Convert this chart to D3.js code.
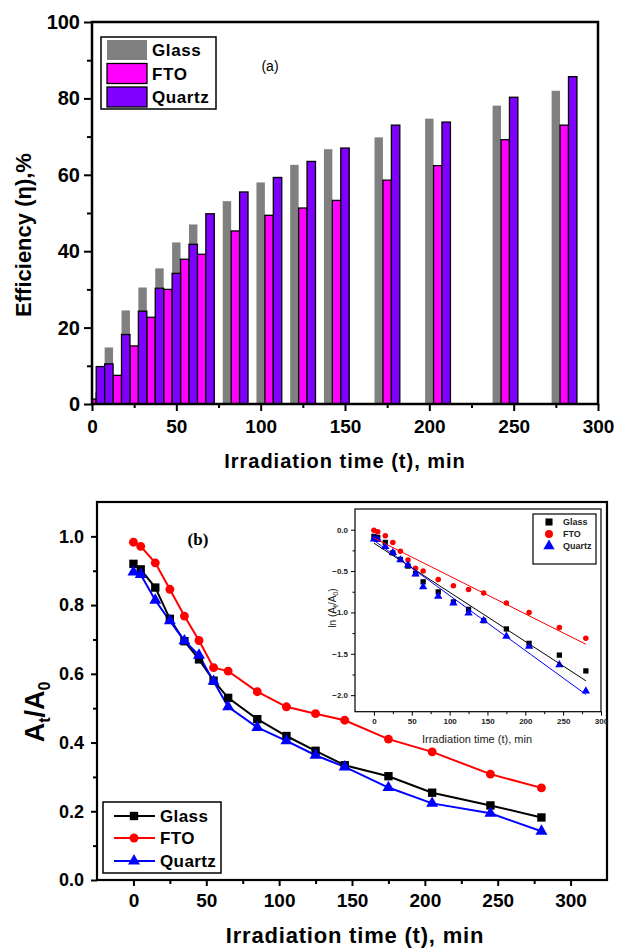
<!DOCTYPE html>
<html><head><meta charset="utf-8">
<script src="https://cdn.jsdelivr.net/npm/d3@7"></script>
<style>body{margin:0;background:#fff}text{font-family:"Liberation Sans",Arial,sans-serif}</style>
</head><body><svg id="c" width="617" height="950"></svg>
<script>
// ---------- DATA ----------
const times = [0, 5, 15, 25, 35, 45, 55, 65, 85, 105, 125, 145, 175, 205, 245, 280];
const seriesNames = ["Glass", "FTO", "Quartz"];

// panel (a): efficiency %
const effGlass  = [null, null, 14.8, 24.5, 30.5, 35.5, 42.3, 47.0, 53.1, 58.0, 62.6, 66.7, 69.8, 74.7, 78.1, 82.0];
const effFTO    = [1.3, 2.9, 7.5, 15.2, 22.7, 30.0, 37.9, 39.2, 45.3, 49.4, 51.3, 53.3, 58.6, 62.4, 69.2, 73.0];
const effQuartz = [9.8, 10.5, 18.2, 24.3, 30.3, 34.2, 41.8, 49.8, 55.5, 59.3, 63.5, 67.0, 73.0, 73.8, 80.3, 85.7];

// panel (b): At/A0
const ratioGlass  = [0.920, 0.904, 0.851, 0.760, 0.695, 0.642, 0.580, 0.530, 0.468, 0.419, 0.376, 0.334, 0.302, 0.254, 0.217, 0.182];
const ratioFTO    = [0.983, 0.971, 0.923, 0.846, 0.768, 0.697, 0.618, 0.608, 0.548, 0.504, 0.484, 0.465, 0.410, 0.373, 0.308, 0.268];
const ratioQuartz = [0.896, 0.889, 0.814, 0.754, 0.696, 0.654, 0.578, 0.504, 0.444, 0.405, 0.363, 0.329, 0.269, 0.223, 0.194, 0.142];

// inset: ln(At/A0)
const lnGlass  = [-0.081, -0.093, -0.154, -0.28, -0.36, -0.44, -0.53, -0.63, -0.752, -0.874, -0.963, -1.10, -1.20, -1.374, -1.516, -1.707];
const lnFTO    = [-0.008, -0.024, -0.073, -0.154, -0.26, -0.366, -0.467, -0.50, -0.602, -0.679, -0.724, -0.765, -0.886, -1.00, -1.183, -1.313];
const lnQuartz = [-0.114, -0.12, -0.203, -0.276, -0.366, -0.427, -0.537, -0.691, -0.805, -0.886, -1.008, -1.098, -1.289, -1.411, -1.634, -1.951];
// linear fits: intercept, slope
const fitIntercept = [-0.163, -0.102, -0.130];
const fitSlope     = [-0.00594, -0.00458, -0.00665];

// tick values
const ticksA_x = [0, 50, 100, 150, 200, 250, 300];
const ticksA_y = [0, 20, 40, 60, 80, 100];
const ticksB_x = [0, 50, 100, 150, 200, 250, 300];
const ticksB_y = [0.0, 0.2, 0.4, 0.6, 0.8, 1.0];
const ticksI_x = [0, 50, 100, 150, 200, 250, 300];
const ticksI_y = [0.0, -0.5, -1.0, -1.5, -2.0];

// ---------- DRAW ----------
const svg = d3.select("#c");
const BOLD = "bold";

function axis(g, scale, orient, major, minor, size, minSize, pad, fmt, fs, sw, color) {
  const mk = orient === "bottom" ? d3.axisBottom : d3.axisLeft;
  const a1 = g.append("g").call(mk(scale).tickValues(major).tickSize(size).tickPadding(pad).tickFormat(fmt));
  const a2 = g.append("g").call(mk(scale).tickValues(minor).tickSize(minSize).tickFormat(""));
  [a1, a2].forEach(a => {
    a.select(".domain").remove();
    a.selectAll("line").attr("stroke", "#000").attr("stroke-width", sw);
  });
  a1.selectAll("text").attr("font-size", fs).attr("font-weight", BOLD).attr("fill", color || "#000")
    .attr("font-family", '"Liberation Sans",Arial,sans-serif');
}

// ===== Panel (a) =====
const xA = d3.scaleLinear().domain([0, 300]).range([92, 598]);
const yA = d3.scaleLinear().domain([0, 100]).range([404, 22]);
const gA = svg.append("g");
svg.append("clipPath").attr("id", "clipA").append("rect")
  .attr("x", xA(0)).attr("y", yA(100)).attr("width", xA(300) - xA(0)).attr("height", yA(0) - yA(100));

const barW = 5;
const barSeries = [
  { vals: effGlass,  color: "#808080", off: -5, stroke: "none" },
  { vals: effFTO,    color: "#FF00FF", off: 0,  stroke: "#000" },
  { vals: effQuartz, color: "#8000FF", off: 5,  stroke: "#000" }
];
const barsG = gA.append("g").attr("clip-path", "url(#clipA)");
barSeries.forEach(s => {
  barsG.append("g").selectAll("rect")
    .data(times.map((t, i) => ({ t, v: s.vals[i] })).filter(d => d.v != null))
    .join("rect")
    .attr("x", d => xA(d.t + s.off - barW / 2))
    .attr("width", xA(barW) - xA(0))
    .attr("y", d => yA(d.v))
    .attr("height", d => yA(0) - yA(d.v))
    .attr("fill", s.color)
    .attr("stroke", s.stroke)
    .attr("stroke-width", 1.3);
});

axis(gA.append("g").attr("transform", `translate(0,${yA(0)})`), xA, "bottom",
  ticksA_x, d3.range(25, 300, 50), 7, 4, 9, d3.format("d"), 19, 2);
axis(gA.append("g").attr("transform", `translate(${xA(0)},0)`), yA, "left",
  ticksA_y, d3.range(10, 100, 20), 8, 5, 4, d3.format("d"), 20, 2);

gA.append("rect").attr("x", xA(0)).attr("y", yA(100)).attr("width", xA(300) - xA(0)).attr("height", yA(0) - yA(100))
  .attr("fill", "none").attr("stroke", "#000").attr("stroke-width", 2.5);

gA.append("text").attr("x", 345).attr("y", 468).attr("text-anchor", "middle")
  .attr("font-size", 20).attr("font-weight", BOLD).attr("letter-spacing", 1)
  .text("Irradiation time (t), min");
gA.append("text").attr("transform", "translate(31,235) rotate(-90)").attr("text-anchor", "middle")
  .attr("font-size", 22).attr("font-weight", BOLD).text("Efficiency (η),%");
gA.append("text").attr("x", 270).attr("y", 71).attr("text-anchor", "middle")
  .attr("font-size", 14).text("(a)");

// legend (a)
const legA = gA.append("g");
legA.append("rect").attr("x", 101).attr("y", 37).attr("width", 115).attr("height", 72)
  .attr("fill", "#fff").attr("stroke", "#000").attr("stroke-width", 1.5);
const legAy = [40, 63.5, 87];
barSeries.forEach((s, i) => {
  legA.append("rect").attr("x", 107).attr("y", legAy[i]).attr("width", 40).attr("height", 20)
    .attr("fill", s.color).attr("stroke", s.stroke).attr("stroke-width", 1.3);
  legA.append("text").attr("x", 152).attr("y", legAy[i] + 16).attr("font-size", 17)
    .attr("font-weight", BOLD).attr("letter-spacing", 0.6).text(seriesNames[i]);
});

// ===== Panel (b) =====
const xB = d3.scaleLinear().domain([-25, 325]).range([97, 607]);
const yB = d3.scaleLinear().domain([0, 1.1]).range([880, 502]);
const gB = svg.append("g");

axis(gB.append("g").attr("transform", `translate(0,${yB(0)})`), xB, "bottom",
  ticksB_x, d3.range(25, 301, 50), 6, 4, 8, d3.format("d"), 19, 2);
axis(gB.append("g").attr("transform", `translate(${xB(-25)},0)`), yB, "left",
  ticksB_y, [0.1, 0.3, 0.5, 0.7, 0.9], 6, 4, 7, d3.format(".1f"), 18, 2);

gB.append("rect").attr("x", xB(-25)).attr("y", yB(1.1)).attr("width", xB(325) - xB(-25)).attr("height", yB(0) - yB(1.1))
  .attr("fill", "none").attr("stroke", "#000").attr("stroke-width", 2.2);

const lineSeries = [
  { vals: ratioGlass,  ln: lnGlass,  color: "#000000", marker: "square" },
  { vals: ratioFTO,    ln: lnFTO,    color: "#FF0000", marker: "circle" },
  { vals: ratioQuartz, ln: lnQuartz, color: "#0000FF", marker: "triangle" }
];
const symType = { square: d3.symbolSquare, circle: d3.symbolCircle, triangle: d3.symbolTriangle };
function markerPath(m, s) { return d3.symbol().type(symType[m]).size(s)(); }
const mSize = { square: 70, circle: 62, triangle: 62 };

lineSeries.forEach(s => {
  const line = d3.line().x((d, i) => xB(times[i])).y(d => yB(d));
  gB.append("path").datum(s.vals).attr("d", line).attr("fill", "none")
    .attr("stroke", s.color).attr("stroke-width", 2);
});
lineSeries.forEach(s => {
  gB.append("g").selectAll("path").data(s.vals).join("path")
    .attr("transform", (d, i) => `translate(${xB(times[i])},${yB(d)})`)
    .attr("d", markerPath(s.marker, mSize[s.marker])).attr("fill", s.color);
});

gB.append("text").attr("x", 355).attr("y", 943).attr("text-anchor", "middle")
  .attr("font-size", 22).attr("font-weight", BOLD).attr("letter-spacing", 0.8)
  .text("Irradiation time (t), min");
const yl = gB.append("text").attr("transform", "translate(44,712) rotate(-90)").attr("text-anchor", "middle")
  .attr("font-size", 27).attr("font-weight", BOLD);
yl.append("tspan").text("A");
yl.append("tspan").attr("font-size", 16).attr("dy", 6).text("t");
yl.append("tspan").attr("dy", -6).text("/A");
yl.append("tspan").attr("font-size", 16).attr("dy", 6).text("0");
gB.append("text").attr("x", 198).attr("y", 545).attr("text-anchor", "middle")
  .attr("font-size", 17).attr("font-weight", BOLD)
  .attr("font-family", '"Liberation Serif","Times New Roman",serif').style("font-family", '"Liberation Serif",serif').text("(b)");

// legend (b)
const legB = gB.append("g");
legB.append("rect").attr("x", 103).attr("y", 802).attr("width", 118).attr("height", 71)
  .attr("fill", "#fff").attr("stroke", "#000").attr("stroke-width", 1.5);
const legBy = [816, 838, 861];
lineSeries.forEach((s, i) => {
  legB.append("line").attr("x1", 114).attr("x2", 155).attr("y1", legBy[i]).attr("y2", legBy[i])
    .attr("stroke", s.color).attr("stroke-width", 2);
  legB.append("path").attr("transform", `translate(134,${legBy[i]})`)
    .attr("d", markerPath(s.marker, mSize[s.marker])).attr("fill", s.color);
  legB.append("text").attr("x", 160).attr("y", legBy[i] + 6).attr("font-size", 17)
    .attr("font-weight", BOLD).attr("letter-spacing", 0.4).text(seriesNames[i]);
});

// ===== Inset =====
const xI = d3.scaleLinear().domain([-25, 300]).range([355, 601]);
const yI = d3.scaleLinear().domain([-2.2, 0.25]).range([711.7, 509]);
const gI = svg.append("g");
axis(gI.append("g").attr("transform", `translate(0,${yI(-2.2)})`), xI, "bottom",
  ticksI_x, d3.range(25, 300, 50), 4, 2.5, 3, d3.format("d"), 8, 1, "#222");
axis(gI.append("g").attr("transform", `translate(${xI(-25)},0)`), yI, "left",
  ticksI_y, [-0.25, -0.75, -1.25, -1.75], 4, 2.5, 3, d3.format(".1f"), 8, 1, "#222");
gI.append("rect").attr("x", xI(-25)).attr("y", yI(0.25)).attr("width", xI(300) - xI(-25)).attr("height", yI(-2.2) - yI(0.25))
  .attr("fill", "none").attr("stroke", "#000").attr("stroke-width", 1.2);

const mSizeI = { square: 28, circle: 24, triangle: 30 };
lineSeries.forEach((s, k) => {
  gI.append("g").selectAll("path").data(s.ln).join("path")
    .attr("transform", (d, i) => `translate(${xI(times[i])},${yI(d)})`)
    .attr("d", markerPath(s.marker, mSizeI[s.marker])).attr("fill", s.color);
});
lineSeries.forEach((s, k) => {
  gI.append("line")
    .attr("x1", xI(0)).attr("y1", yI(fitIntercept[k]))
    .attr("x2", xI(280)).attr("y2", yI(fitIntercept[k] + fitSlope[k] * 280))
    .attr("stroke", s.color).attr("stroke-width", 1);
});
gI.append("text").attr("x", 477).attr("y", 743).attr("text-anchor", "middle")
  .attr("font-size", 11).attr("fill", "#222").text("Irradiation time (t), min");
const yli = gI.append("text").attr("transform", "translate(336,608) rotate(-90)").attr("text-anchor", "middle")
  .attr("font-size", 10).attr("fill", "#222");
yli.append("tspan").text("ln (A");
yli.append("tspan").attr("font-size", 7).attr("dy", 2).text("t");
yli.append("tspan").attr("dy", -2).text("/A");
yli.append("tspan").attr("font-size", 7).attr("dy", 2).text("0");
yli.append("tspan").attr("dy", -2).text(")");

const legI = gI.append("g");
legI.append("rect").attr("x", 533).attr("y", 514).attr("width", 63).attr("height", 50)
  .attr("fill", "#fff").attr("stroke", "#000").attr("stroke-width", 1.2);
const legIy = [522, 534, 546];
lineSeries.forEach((s, i) => {
  legI.append("path").attr("transform", `translate(549,${legIy[i]})`)
    .attr("d", markerPath(s.marker, s.marker === "triangle" ? 55 : 50)).attr("fill", s.color);
  legI.append("text").attr("x", 563).attr("y", legIy[i] + 3).attr("font-size", 9)
    .attr("font-weight", BOLD).attr("fill", "#222").text(seriesNames[i]);
});
</script></body></html>
